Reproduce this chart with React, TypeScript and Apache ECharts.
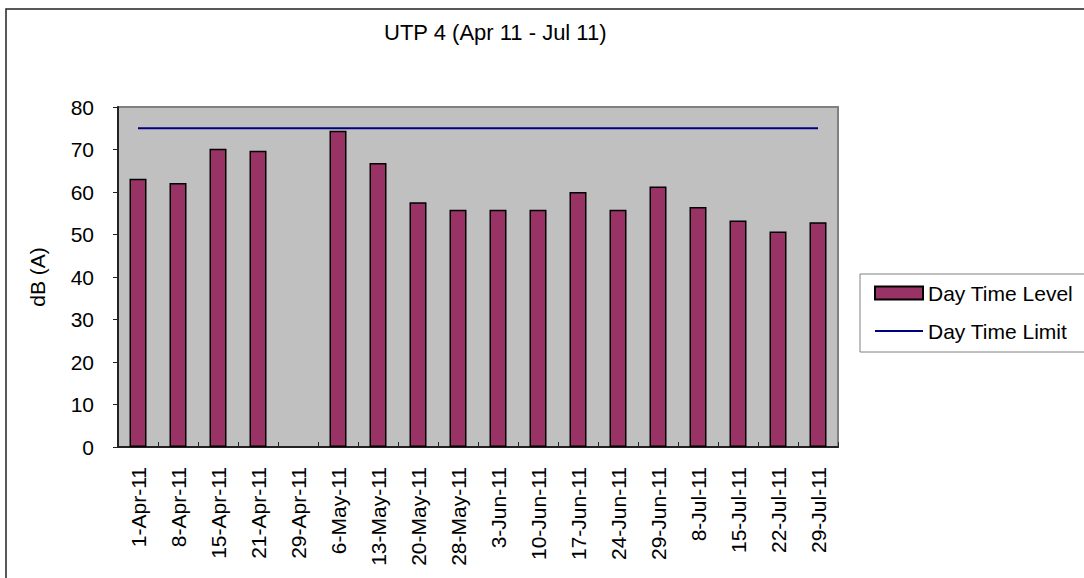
import React, { useEffect, useRef } from "react";
import * as echarts from "echarts";

const categories = [
  "1-Apr-11", "8-Apr-11", "15-Apr-11", "21-Apr-11", "29-Apr-11", "6-May-11",
  "13-May-11", "20-May-11", "28-May-11", "3-Jun-11", "10-Jun-11", "17-Jun-11",
  "24-Jun-11", "29-Jun-11", "8-Jul-11", "15-Jul-11", "22-Jul-11", "29-Jul-11",
];
const dayTimeLevel: (number | null)[] = [
  63.1, 62.1, 70.2, 69.7, null, 74.4,
  66.8, 57.6, 55.8, 55.8, 55.8, 60.0,
  55.8, 61.3, 56.5, 53.3, 50.7, 52.9,
];
const dayTimeLimit = [
  75, 75, 75, 75, 75, 75, 75, 75, 75, 75, 75, 75, 75, 75, 75, 75, 75, 75,
];
const yTicks = { min: 0, max: 80, interval: 10 };

const FONT = "'Liberation Sans', Arial, sans-serif";

export default function App() {
  const ref = useRef<HTMLDivElement>(null);
  useEffect(() => {
    if (!ref.current) return;
    const chart = echarts.init(ref.current, undefined, { renderer: "svg" });
    chart.setOption({
      animation: false,
      backgroundColor: "#ffffff",
      title: {
        text: "UTP 4 (Apr 11 - Jul 11)",
        left: 384,
        top: 21,
        padding: 0,
        textStyle: { fontFamily: FONT, fontSize: 22, fontWeight: "normal", color: "#000" },
      },
      grid: {
        left: 118,
        top: 107,
        width: 720,
        height: 340,
        show: true,
        backgroundColor: "#c0c0c0",
        borderColor: "#808080",
        borderWidth: 2,
      },
      legend: {
        orient: "vertical",
        left: 860,
        top: 274,
        padding: [7, 14, 9, 14],
        itemGap: 14,
        itemWidth: 48,
        itemHeight: 13,
        backgroundColor: "#ffffff",
        borderColor: "#808080",
        borderWidth: 1,
        borderRadius: 0,
        textStyle: { fontFamily: FONT, fontSize: 21, color: "#000", lineHeight: 24 },
        data: [
          { name: "Day Time Level", icon: "rect" },
          {
            name: "Day Time Limit",
            itemStyle: { opacity: 0, borderWidth: 0 },
            lineStyle: { color: "#000080", width: 2 },
          },
        ],
      },
      xAxis: {
        type: "category",
        data: categories,
        axisLine: { lineStyle: { color: "#222", width: 2 } },
        axisTick: { show: true, inside: true, length: 5, interval: 0, lineStyle: { color: "#222" } },
        axisLabel: {
          rotate: 90,
          interval: 0,
          margin: 20,
          fontFamily: FONT,
          fontSize: 21,
          color: "#000",
        },
        splitLine: { show: false },
      },
      yAxis: {
        type: "value",
        min: yTicks.min,
        max: yTicks.max,
        interval: yTicks.interval,
        axisLine: { show: true, lineStyle: { color: "#222", width: 2 } },
        axisTick: { show: true, inside: false, length: 5, lineStyle: { color: "#222" } },
        axisLabel: { margin: 24, fontFamily: FONT, fontSize: 21, color: "#000" },
        splitLine: { show: false },
      },
      graphic: [
        {
          type: "rect",
          shape: { x: 6, y: 9, width: 1200, height: 700 },
          style: { fill: "none", stroke: "#222", lineWidth: 1.5 },
          silent: true,
        },
        {
          type: "text",
          x: 37,
          y: 277,
          rotation: Math.PI / 2,
          style: {
            text: "dB (A)",
            fontFamily: FONT,
            fontSize: 21,
            fill: "#000",
            align: "center",
            verticalAlign: "middle",
          },
        },
      ],
      series: [
        {
          name: "Day Time Level",
          type: "bar",
          data: dayTimeLevel,
          barWidth: 17,
          itemStyle: { color: "#993366", borderColor: "#000", borderWidth: 1.5 },
        },
        {
          name: "Day Time Limit",
          type: "line",
          data: dayTimeLimit,
          symbol: "none",
          showSymbol: false,
          lineStyle: { color: "#000080", width: 2 },
          itemStyle: { color: "#000080" },
        },
      ],
    });
    return () => chart.dispose();
  }, []);
  return (
    <div
      ref={ref}
      style={{ position: "absolute", left: 0, top: 0, width: 1084, height: 578 }}
    />
  );
}
